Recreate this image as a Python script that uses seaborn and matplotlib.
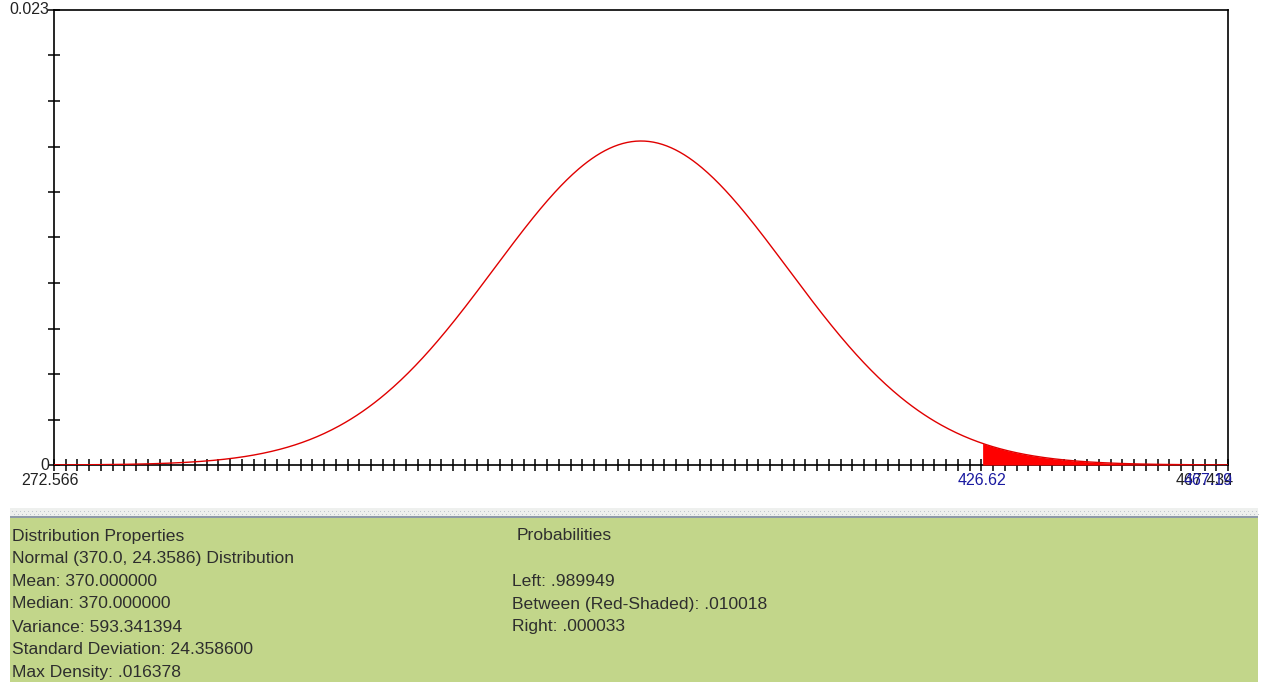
import numpy as np
import pandas as pd
import matplotlib
matplotlib.use("Agg")
import matplotlib.pyplot as plt
import seaborn as sns

# ---- data ----
dist_mean = 370.0
dist_sd = 24.3586
x_min = 272.566
x_max = 467.434
y_max = 0.023
shade_lo = 426.62
shade_hi = 467.19
x_tick_count = 101
y_tick_count = 11

props_lines = [
    "Distribution Properties",
    "Normal (370.0, 24.3586) Distribution",
    "Mean: 370.000000",
    "Median: 370.000000",
    "Variance: 593.341394",
    "Standard Deviation: 24.358600",
    "Max Density: .016378",
]
prob_title = "Probabilities"
prob_lines = [
    "Left: .989949",
    "Between (Red-Shaded): .010018",
    "Right: .000033",
]

# ---- build density table from the stated distribution parameters ----
xs = np.linspace(x_min, x_max, 800)
dens = np.exp(-0.5 * ((xs - dist_mean) / dist_sd) ** 2) / (dist_sd * np.sqrt(2 * np.pi))
df = pd.DataFrame({"x": xs, "density": dens})

sns.set_style("white")
plt.rcParams["font.family"] = ["Liberation Sans", "DejaVu Sans"]

W, H = 1262, 682
fig = plt.figure(figsize=(W / 100, H / 100), dpi=100)
fig.patch.set_facecolor("white")

ax = fig.add_axes([54 / W, 1 - 465 / H, (1228 - 54) / W, (465 - 10) / H])
ax.set_facecolor("white")

sns.lineplot(data=df, x="x", y="density", ax=ax, color="#e00000", linewidth=1.0, zorder=4)
mask = (df["x"] >= shade_lo) & (df["x"] <= shade_hi)
ax.fill_between(df["x"][mask], 0, df["density"][mask], color="#ff0000", linewidth=0, zorder=3)

ax.set_xlim(x_min, x_max)
ax.set_ylim(0, y_max)
ax.set_xlabel("")
ax.set_ylabel("")

# ticks
ax.set_xticks(np.linspace(x_min, x_max, x_tick_count))
ax.set_xticklabels([])
ax.set_yticks(np.linspace(0, y_max, y_tick_count))
ax.set_yticklabels([])
ax.tick_params(axis="x", direction="inout", length=8, width=1.1, color="black", bottom=True)
ax.tick_params(axis="y", direction="inout", length=8, width=1.1, color="black", left=True)

for s in ["top", "right", "left", "bottom"]:
    ax.spines[s].set_visible(True)
    ax.spines[s].set_color("black")
    ax.spines[s].set_linewidth(1.2)

# axis end labels
lab_fs = 11.5
lc = "#222222"
ax.text(-0.004, 1.0, "0.023", transform=ax.transAxes, ha="right", va="center", fontsize=lab_fs, color=lc)
ax.text(-0.004, 0.0, "0", transform=ax.transAxes, ha="right", va="center", fontsize=lab_fs, color=lc)
ax.annotate("272.566", xy=(x_min, 0), xycoords="data", xytext=(-3, -6), textcoords="offset points",
            ha="center", va="top", fontsize=lab_fs, color=lc, annotation_clip=False)
ax.annotate("467.434", xy=(x_max, 0), xycoords="data", xytext=(4, -6), textcoords="offset points",
            ha="right", va="top", fontsize=lab_fs, color=lc, annotation_clip=False)
ax.annotate(f"{shade_hi:.2f}", xy=(x_max, 0), xycoords="data", xytext=(3, -6), textcoords="offset points",
            ha="right", va="top", fontsize=lab_fs, color="#1a1aa0", annotation_clip=False)
ax.annotate(f"{shade_lo:.2f}", xy=(shade_lo, 0), xycoords="data", xytext=(0, -6), textcoords="offset points",
            ha="center", va="top", fontsize=lab_fs, color="#1a1aa0", annotation_clip=False)

# ---- bottom info panel ----
bg = fig.add_axes([0, 0, 1, 1], zorder=-1)
bg.set_xlim(0, W)
bg.set_ylim(H, 0)
bg.axis("off")
bg.add_patch(plt.Rectangle((10, 508), 1248, 9, facecolor="#eef0ee", edgecolor="none"))
xd = np.arange(12, 1258, 4)
bg.scatter(xd, np.full_like(xd, 511.0, dtype=float), s=0.6, color="#b8c0c8", linewidths=0)
bg.scatter(xd + 2, np.full_like(xd, 514.0, dtype=float), s=0.6, color="#b8c0c8", linewidths=0)
bg.add_patch(plt.Rectangle((10, 516), 1248, 2, facecolor="#8e9aa8", edgecolor="none"))
bg.add_patch(plt.Rectangle((10, 518), 1248, 164, facecolor="#c2d68a", edgecolor="none"))

panel_fs = 12.6
tc = "#2e2e2e"
line_y = [536, 558, 581, 604, 627, 650, 673]
for y, t in zip(line_y, props_lines):
    bg.text(12, y, t, fontsize=panel_fs, color=tc, va="center", ha="left")
bg.text(517, line_y[0], prob_title, fontsize=panel_fs, color=tc, va="center", ha="left")
for y, t in zip(line_y[2:5], prob_lines):
    bg.text(512, y, t, fontsize=panel_fs, color=tc, va="center", ha="left")

fig.savefig("out.png", dpi=100, facecolor="white")
